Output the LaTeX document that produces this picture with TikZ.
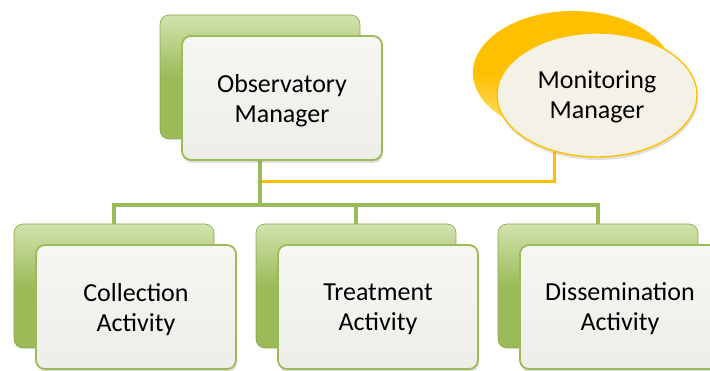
\documentclass[tikz,border=0pt]{standalone}
\usepackage{fontspec}
\setmainfont{Carlito}
\usetikzlibrary{shapes.geometric,shadows,backgrounds,positioning}
\definecolor{olivo}{HTML}{9BBB59}
\definecolor{olivoclaro}{HTML}{D2E3AE}
\definecolor{olivooscuro}{HTML}{86A646}
\definecolor{ambar}{HTML}{FFC000}
\definecolor{ambarclaro}{HTML}{FFE680}
\definecolor{papel}{HTML}{EDEEE8}
\definecolor{crema}{HTML}{F4F1E6}

\begin{document}
\begin{tikzpicture}[x=1pt, y=-1pt,
	tarjeta/.style={rectangle, rounded corners=9pt, minimum width=200pt, minimum height=124pt, inner sep=0pt},
	fondo/.style={tarjeta, draw=olivooscuro, line width=0.6pt, top color=olivoclaro, bottom color=olivo, middle color=olivo},
	frente/.style={tarjeta, draw=olivo, line width=1.8pt, top color=papel!50!white, bottom color=papel, align=center,
		font=\fontsize{26}{30}\selectfont, text depth=-3pt,
		drop shadow={opacity=0.25, shadow xshift=1pt, shadow yshift=-3pt}},
	ovalo/.style={ellipse, minimum width=200pt, minimum height=124pt, inner sep=0pt},
	ovfondo/.style={ovalo, top color=ambar, bottom color=ambarclaro, middle color=ambar},
	ovfrente/.style={ovalo, draw=ambar, line width=1.4pt, fill=crema, align=center,
		font=\fontsize{26}{30}\selectfont, text depth=-3pt,
		drop shadow={opacity=0.25, shadow xshift=1pt, shadow yshift=-3pt}},
	rama/.style={olivo, line width=4.5pt},
	enlace/.style={ambar, line width=3pt}]
	\useasboundingbox (0,0) rectangle (710,371);

	% Gestor del observatorio
	\node[fondo] (obsback) at (260,77) {};
	\node[frente] (obs) at ([shift={(22,21)}]obsback.center) {Observatory\\Manager};

	% Gestor de monitoreo
	\node[ovfondo] (monback) at (573,73) {};
	\node[ovfrente] (mon) at ([shift={(24,22)}]monback.center) {Monitoring\\Manager};

	% Actividades
	\node[fondo] (colback) at (114,286) {};
	\node[frente] (col) at ([shift={(22,21)}]colback.center) {Collection\\Activity};
	\node[fondo] (treback) at (356,286) {};
	\node[frente] (tre) at ([shift={(22,21)}]treback.center) {Treatment\\Activity};
	\node[fondo] (disback) at (598,286) {};
	\node[frente] (dis) at ([shift={(22,21)}]disback.center) {Dissemination\\Activity};

	% Conectores
	\coordinate (bus) at (260,205);
	\coordinate (tap) at (262,182);
	\begin{pgfonlayer}{background}
		\draw[rama] (obsback.south) -- (bus);
		\draw[rama] (bus) -| (colback.north);
		\draw[rama] (bus) -| (treback.north);
		\draw[rama] (bus) -| (disback.north);
		\draw[enlace] (mon.233) |- (tap);
	\end{pgfonlayer}
\end{tikzpicture}
\end{document}
